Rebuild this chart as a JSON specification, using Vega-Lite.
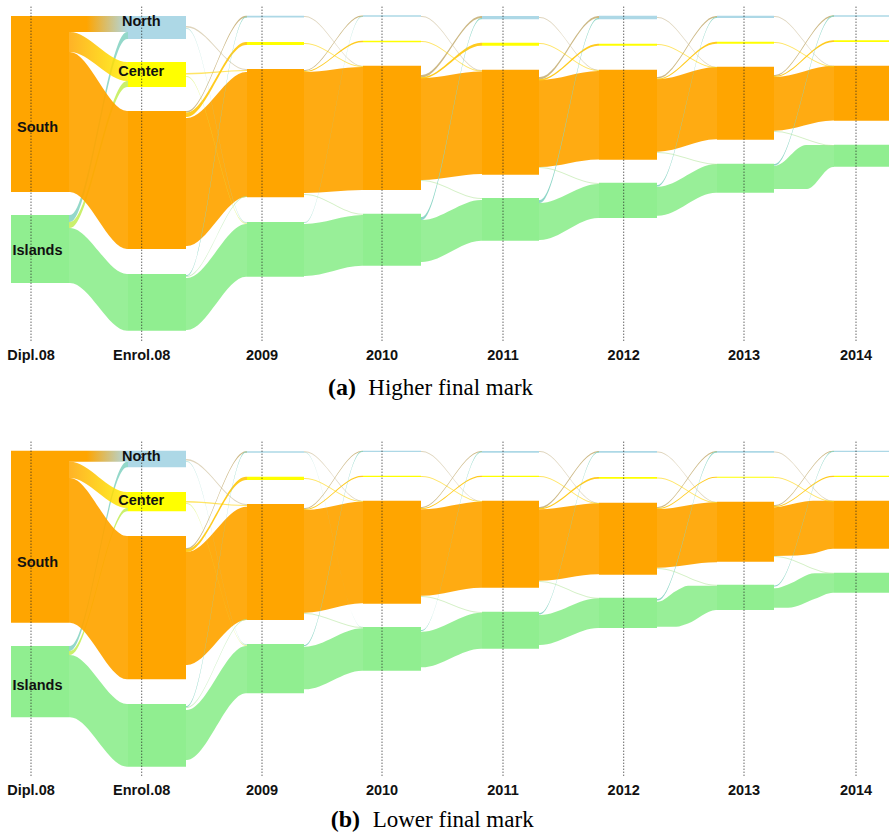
{
"$schema":"https://vega.github.io/schema/vega-lite/v6.json",
"padding":0,
"spacing":35,
"background":"white",
"config":{"view":{"stroke":null}},
"datasets":{
"cols":[{"t":"Dipl.08","x":31},{"t":"Enrol.08","x":141.7},{"t":"2009","x":262},{"t":"2010","x":382},{"t":"2011","x":503},{"t":"2012","x":623.7},{"t":"2013","x":744},{"t":"2014","x":856}],
"labels":[
{"p":"a","t":"South","x":37.5,"y":128},{"p":"a","t":"Islands","x":37.5,"y":251},{"p":"a","t":"North","x":141.3,"y":22},{"p":"a","t":"Center","x":141.3,"y":72},
{"p":"b","t":"South","x":37.5,"y":127.7},{"p":"b","t":"Islands","x":37.5,"y":251},{"p":"b","t":"North","x":141.3,"y":21.7},{"p":"b","t":"Center","x":141.3,"y":65.8}],
"caps":[{"p":"a","part":"tag","t":"(a)","x":356},{"p":"a","part":"txt","t":"Higher final mark","x":368.3},{"p":"b","part":"tag","t":"(b)","x":360},{"p":"b","part":"txt","t":"Lower final mark","x":372.7}],
"nodes":[
{"p":"a","col":"Dipl.08","r":"South","x":11,"x2":69,"lo":16,"hi":192},
{"p":"a","col":"Dipl.08","r":"Islands","x":11,"x2":69,"lo":215,"hi":283},
{"p":"a","col":"Enrol.08","r":"North","x":128,"x2":186,"lo":16,"hi":39},
{"p":"a","col":"Enrol.08","r":"Center","x":128,"x2":186,"lo":62,"hi":87},
{"p":"a","col":"Enrol.08","r":"South","x":128,"x2":186,"lo":111,"hi":249},
{"p":"a","col":"Enrol.08","r":"Islands","x":128,"x2":186,"lo":274,"hi":330.7},
{"p":"a","col":"2009","r":"North","x":247,"x2":304,"lo":15.7,"hi":17.5},
{"p":"a","col":"2009","r":"Center","x":247,"x2":304,"lo":42,"hi":45},
{"p":"a","col":"2009","r":"South","x":247,"x2":304,"lo":69,"hi":197.3},
{"p":"a","col":"2009","r":"Islands","x":247,"x2":304,"lo":222,"hi":276.7},
{"p":"a","col":"2010","r":"North","x":363,"x2":421,"lo":15.3,"hi":16.8},
{"p":"a","col":"2010","r":"Center","x":363,"x2":421,"lo":40.7,"hi":42.3},
{"p":"a","col":"2010","r":"South","x":363,"x2":421,"lo":65.7,"hi":190},
{"p":"a","col":"2010","r":"Islands","x":363,"x2":421,"lo":213.7,"hi":265.7},
{"p":"a","col":"2011","r":"North","x":482,"x2":539,"lo":16,"hi":19.3},
{"p":"a","col":"2011","r":"Center","x":482,"x2":539,"lo":42.7,"hi":45.7},
{"p":"a","col":"2011","r":"South","x":482,"x2":539,"lo":69.7,"hi":174.7},
{"p":"a","col":"2011","r":"Islands","x":482,"x2":539,"lo":198,"hi":240.7},
{"p":"a","col":"2012","r":"North","x":599,"x2":657,"lo":15.7,"hi":19.3},
{"p":"a","col":"2012","r":"Center","x":599,"x2":657,"lo":43.7,"hi":45.7},
{"p":"a","col":"2012","r":"South","x":599,"x2":657,"lo":69.7,"hi":159.7},
{"p":"a","col":"2012","r":"Islands","x":599,"x2":657,"lo":182.7,"hi":218},
{"p":"a","col":"2013","r":"North","x":717,"x2":774,"lo":15.7,"hi":18},
{"p":"a","col":"2013","r":"Center","x":717,"x2":774,"lo":41.7,"hi":43.7},
{"p":"a","col":"2013","r":"South","x":717,"x2":774,"lo":66.7,"hi":139.7},
{"p":"a","col":"2013","r":"Islands","x":717,"x2":774,"lo":163.7,"hi":192.7},
{"p":"a","col":"2014","r":"North","x":834,"x2":889,"lo":15.3,"hi":16.7},
{"p":"a","col":"2014","r":"Center","x":834,"x2":889,"lo":40.3,"hi":42},
{"p":"a","col":"2014","r":"South","x":834,"x2":889,"lo":65.7,"hi":120.7},
{"p":"a","col":"2014","r":"Islands","x":834,"x2":889,"lo":144.7,"hi":166.7},
{"p":"b","col":"Dipl.08","r":"South","x":11,"x2":69,"lo":15.7,"hi":187.7},
{"p":"b","col":"Dipl.08","r":"Islands","x":11,"x2":69,"lo":211,"hi":282.3},
{"p":"b","col":"Enrol.08","r":"North","x":128,"x2":186,"lo":15.7,"hi":32.3},
{"p":"b","col":"Enrol.08","r":"Center","x":128,"x2":186,"lo":57,"hi":76.3},
{"p":"b","col":"Enrol.08","r":"South","x":128,"x2":186,"lo":101,"hi":244.3},
{"p":"b","col":"Enrol.08","r":"Islands","x":128,"x2":186,"lo":269,"hi":331.7},
{"p":"b","col":"2009","r":"North","x":247,"x2":304,"lo":16.3,"hi":17.7},
{"p":"b","col":"2009","r":"Center","x":247,"x2":304,"lo":41.7,"hi":45},
{"p":"b","col":"2009","r":"South","x":247,"x2":304,"lo":69,"hi":185},
{"p":"b","col":"2009","r":"Islands","x":247,"x2":304,"lo":209,"hi":258.3},
{"p":"b","col":"2010","r":"North","x":363,"x2":421,"lo":15.7,"hi":17},
{"p":"b","col":"2010","r":"Center","x":363,"x2":421,"lo":40.7,"hi":42},
{"p":"b","col":"2010","r":"South","x":363,"x2":421,"lo":65.7,"hi":168.7},
{"p":"b","col":"2010","r":"Islands","x":363,"x2":421,"lo":192,"hi":235.7},
{"p":"b","col":"2011","r":"North","x":482,"x2":539,"lo":16,"hi":17.7},
{"p":"b","col":"2011","r":"Center","x":482,"x2":539,"lo":40.7,"hi":42},
{"p":"b","col":"2011","r":"South","x":482,"x2":539,"lo":65.7,"hi":152.7},
{"p":"b","col":"2011","r":"Islands","x":482,"x2":539,"lo":176.7,"hi":213.7},
{"p":"b","col":"2012","r":"North","x":599,"x2":657,"lo":16,"hi":17.7},
{"p":"b","col":"2012","r":"Center","x":599,"x2":657,"lo":42,"hi":43.7},
{"p":"b","col":"2012","r":"South","x":599,"x2":657,"lo":67.7,"hi":139.7},
{"p":"b","col":"2012","r":"Islands","x":599,"x2":657,"lo":162.7,"hi":193},
{"p":"b","col":"2013","r":"North","x":717,"x2":774,"lo":16,"hi":17.7},
{"p":"b","col":"2013","r":"Center","x":717,"x2":774,"lo":41.7,"hi":42.7},
{"p":"b","col":"2013","r":"South","x":717,"x2":774,"lo":66.7,"hi":126.7},
{"p":"b","col":"2013","r":"Islands","x":717,"x2":774,"lo":149.7,"hi":175},
{"p":"b","col":"2014","r":"North","x":834,"x2":889,"lo":15.7,"hi":17},
{"p":"b","col":"2014","r":"Center","x":834,"x2":889,"lo":40.7,"hi":42},
{"p":"b","col":"2014","r":"South","x":834,"x2":889,"lo":65.7,"hi":113.7},
{"p":"b","col":"2014","r":"Islands","x":834,"x2":889,"lo":137.7,"hi":157.7}
],
"flows":[
{"p":"a","f":"a01","k":"gradN","c":"SN","x":[69,70,127,128],"lo":[16,16,16,16],"hi":[32,32,32,32]},
{"p":"a","f":"a02","k":"gradC","c":"SC","x":[69,70,127,128],"lo":[32,32,62,62],"hi":[52,52,81,81]},
{"p":"a","f":"a03","k":"main","c":"South","x":[69,70,127,128],"lo":[52,52,111,111],"hi":[192,192,249,249]},
{"p":"a","f":"a04","k":"under","c":"IN","x":[69,70,127,128],"lo":[215,215,32,32],"hi":[222,222,39,39]},
{"p":"a","f":"a05","k":"under","c":"IC","x":[69,70,127,128],"lo":[222,222,81,81],"hi":[228,228,87,87]},
{"p":"a","f":"a06","k":"main","c":"Islands","x":[69,70,127,128],"lo":[228,228,274,274],"hi":[283,283,330.7,330.7]},
{"p":"a","f":"a07","k":"main","c":"South","x":[186,187,246,247],"lo":[118,118,72,72],"hi":[246,246,197,197]},
{"p":"a","f":"a08","k":"minor","c":"SN","x":[186,187,246,247],"lo":[111,111,15.7,15.7],"hi":[112.5,112.5,17.5,17.5]},
{"p":"a","f":"a09","k":"minor","c":"SC","x":[186,187,246,247],"lo":[112.5,112.5,42,42],"hi":[117,117,45,45]},
{"p":"a","f":"a10","k":"faint","c":"NS","x":[186,187,246,247],"lo":[26,26,69,69],"hi":[27.5,27.5,70,70]},
{"p":"a","f":"a11","k":"faint","c":"NI","x":[186,187,246,247],"lo":[28,28,222,222],"hi":[29,29,223,223]},
{"p":"a","f":"a12","k":"faint","c":"CS","x":[186,187,246,247],"lo":[73,73,70,70],"hi":[74.5,74.5,71,71]},
{"p":"a","f":"a13","k":"faint","c":"CI","x":[186,187,246,247],"lo":[76,76,223,223],"hi":[77,77,224,224]},
{"p":"a","f":"a14","k":"minor","c":"IN","x":[186,187,246,247],"lo":[275,275,16.5,16.5],"hi":[276,276,17.5,17.5]},
{"p":"a","f":"a15","k":"faint","c":"IS","x":[186,187,246,247],"lo":[276,276,196,196],"hi":[277,277,197,197]},
{"p":"a","f":"a16","k":"main","c":"Islands","x":[186,187,246,247],"lo":[278,278,224,224],"hi":[330,330,276.7,276.7]},
{"p":"a","f":"a17","k":"main","c":"South","x":[304,305,362,363],"lo":[72,72,67,67],"hi":[193,193,190,190]},
{"p":"a","f":"a18","k":"minor","c":"SN","x":[304,305,362,363],"lo":[70,70,15.5,15.5],"hi":[71,71,16.8,16.8]},
{"p":"a","f":"a19","k":"minor","c":"SC","x":[304,305,362,363],"lo":[71,71,40.7,40.7],"hi":[72,72,42.3,42.3]},
{"p":"a","f":"a20","k":"faint","c":"NS","x":[304,305,362,363],"lo":[16,16,65.7,65.7],"hi":[17,17,66.5,66.5]},
{"p":"a","f":"a21","k":"faint","c":"CS","x":[304,305,362,363],"lo":[43,43,66,66],"hi":[44,44,67,67]},
{"p":"a","f":"a22","k":"faint","c":"SI","x":[304,305,362,363],"lo":[194,194,213.7,213.7],"hi":[195,195,214.7,214.7]},
{"p":"a","f":"a23","k":"faint","c":"IN","x":[304,305,362,363],"lo":[222,222,16,16],"hi":[223,223,17,17]},
{"p":"a","f":"a24","k":"main","c":"Islands","x":[304,305,362,363],"lo":[224,224,215,215],"hi":[276,276,265.7,265.7]},
{"p":"a","f":"a25","k":"main","c":"South","x":[421,422,481,482],"lo":[78,78,71.5,71.5],"hi":[180,180,174,174]},
{"p":"a","f":"a26","k":"minor","c":"SN","x":[421,422,481,482],"lo":[75,75,16,16],"hi":[77.5,77.5,18,18]},
{"p":"a","f":"a27","k":"minor","c":"SC","x":[421,422,481,482],"lo":[77,77,42.7,42.7],"hi":[78.5,78.5,45.7,45.7]},
{"p":"a","f":"a28","k":"faint","c":"NS","x":[421,422,481,482],"lo":[16,16,70,70],"hi":[17,17,71,71]},
{"p":"a","f":"a29","k":"faint","c":"CS","x":[421,422,481,482],"lo":[41,41,70.5,70.5],"hi":[42,42,71.5,71.5]},
{"p":"a","f":"a30","k":"faint","c":"SI","x":[421,422,481,482],"lo":[180,180,198,198],"hi":[181,181,199,199]},
{"p":"a","f":"a31","k":"minor","c":"IN","x":[421,422,481,482],"lo":[217,217,18,18],"hi":[220,220,19.3,19.3]},
{"p":"a","f":"a32","k":"main","c":"Islands","x":[421,422,481,482],"lo":[220,220,200,200],"hi":[262,262,240.7,240.7]},
{"p":"a","f":"a33","k":"main","c":"South","x":[539,540,598,599],"lo":[80,80,71,71],"hi":[167,167,159.5,159.5]},
{"p":"a","f":"a34","k":"minor","c":"SN","x":[539,540,598,599],"lo":[77,77,16,16],"hi":[79.5,79.5,18,18]},
{"p":"a","f":"a35","k":"minor","c":"SC","x":[539,540,598,599],"lo":[79,79,43.7,43.7],"hi":[80.5,80.5,45.7,45.7]},
{"p":"a","f":"a36","k":"faint","c":"NS","x":[539,540,598,599],"lo":[17,17,69.7,69.7],"hi":[18,18,70.5,70.5]},
{"p":"a","f":"a37","k":"faint","c":"CS","x":[539,540,598,599],"lo":[43,43,70,70],"hi":[44,44,71,71]},
{"p":"a","f":"a38","k":"minor","c":"IN","x":[539,540,598,599],"lo":[200,200,18,18],"hi":[203,203,19.3,19.3]},
{"p":"a","f":"a39","k":"faint","c":"SI","x":[539,540,598,599],"lo":[167,167,183,183],"hi":[168,168,184,184]},
{"p":"a","f":"a40","k":"main","c":"Islands","x":[539,540,598,599],"lo":[203,203,184,184],"hi":[240,240,218,218]},
{"p":"a","f":"a41","k":"main","c":"South","x":[657,658,716,717],"lo":[79,79,67,67],"hi":[151.7,151.7,139.3,139.3]},
{"p":"a","f":"a42","k":"minor","c":"SN","x":[657,658,716,717],"lo":[77,77,16,16],"hi":[78.5,78.5,17.5,17.5]},
{"p":"a","f":"a43","k":"minor","c":"SC","x":[657,658,716,717],"lo":[78.5,78.5,41.7,41.7],"hi":[79.5,79.5,43.7,43.7]},
{"p":"a","f":"a44","k":"faint","c":"NS","x":[657,658,716,717],"lo":[17,17,66.7,66.7],"hi":[18,18,67.5,67.5]},
{"p":"a","f":"a45","k":"faint","c":"CS","x":[657,658,716,717],"lo":[44,44,67,67],"hi":[45,45,68,68]},
{"p":"a","f":"a46","k":"minor","c":"IN","x":[657,658,716,717],"lo":[185,185,17,17],"hi":[186.5,186.5,18,18]},
{"p":"a","f":"a47","k":"faint","c":"SI","x":[657,658,716,717],"lo":[152,152,163.7,163.7],"hi":[153,153,164.7,164.7]},
{"p":"a","f":"a48","k":"main","c":"Islands","x":[657,658,716,717],"lo":[186.7,186.7,164,164],"hi":[215.7,215.7,192.7,192.7]},
{"p":"a","f":"a49","k":"main","c":"South","x":[774,775,833,834],"lo":[77,77,65.7,65.7],"hi":[130.7,130.7,120.5,120.5]},
{"p":"a","f":"a50","k":"minor","c":"SN","x":[774,775,833,834],"lo":[75,75,15.3,15.3],"hi":[76,76,16.7,16.7]},
{"p":"a","f":"a51","k":"minor","c":"SC","x":[774,775,833,834],"lo":[76,76,40.3,40.3],"hi":[77,77,42,42]},
{"p":"a","f":"a52","k":"faint","c":"NS","x":[774,775,833,834],"lo":[16,16,65.7,65.7],"hi":[17,17,66.5,66.5]},
{"p":"a","f":"a53","k":"faint","c":"CS","x":[774,775,833,834],"lo":[42,42,66,66],"hi":[43,43,67,67]},
{"p":"a","f":"a54","k":"minor","c":"IN","x":[774,775,833,834],"lo":[164,164,15.5,15.5],"hi":[165.5,165.5,16.7,16.7]},
{"p":"a","f":"a55","k":"faint","c":"SI","x":[774,775,833,834],"lo":[131,131,145,145],"hi":[132,132,146,146]},
{"p":"a","f":"a56","k":"main","c":"Islands","x":[774,775,806,807,833,834],"lo":[165.7,165.7,145,145,145,145],"hi":[189,189,189,189,167,167]},
{"p":"b","f":"b01","k":"gradN","c":"SN","x":[69,70,127,128],"lo":[15.7,15.7,15.7,15.7],"hi":[26.7,26.7,26.7,26.7]},
{"p":"b","f":"b02","k":"gradC","c":"SC","x":[69,70,127,128],"lo":[26.7,26.7,57,57],"hi":[43,43,73,73]},
{"p":"b","f":"b03","k":"main","c":"South","x":[69,70,127,128],"lo":[43,43,101,101],"hi":[187.7,187.7,244.3,244.3]},
{"p":"b","f":"b04","k":"under","c":"IN","x":[69,70,127,128],"lo":[211,211,26.7,26.7],"hi":[216,216,32.3,32.3]},
{"p":"b","f":"b05","k":"under","c":"IC","x":[69,70,127,128],"lo":[216,216,73,73],"hi":[220,220,76.3,76.3]},
{"p":"b","f":"b06","k":"main","c":"Islands","x":[69,70,127,128],"lo":[220,220,269,269],"hi":[282.3,282.3,331.7,331.7]},
{"p":"b","f":"b07","k":"main","c":"South","x":[186,187,246,247],"lo":[117,117,71.7,71.7],"hi":[230,230,185,185]},
{"p":"b","f":"b08","k":"minor","c":"SN","x":[186,187,246,247],"lo":[113,113,16.3,16.3],"hi":[114.5,114.5,17.7,17.7]},
{"p":"b","f":"b09","k":"minor","c":"SC","x":[186,187,246,247],"lo":[114,114,41.7,41.7],"hi":[117,117,45,45]},
{"p":"b","f":"b10","k":"faint","c":"NS","x":[186,187,246,247],"lo":[24,24,69,69],"hi":[25.5,25.5,70,70]},
{"p":"b","f":"b11","k":"faint","c":"NI","x":[186,187,246,247],"lo":[26,26,209,209],"hi":[27,27,210,210]},
{"p":"b","f":"b12","k":"faint","c":"CS","x":[186,187,246,247],"lo":[66,66,70,70],"hi":[67.5,67.5,71,71]},
{"p":"b","f":"b13","k":"faint","c":"CI","x":[186,187,246,247],"lo":[68,68,210,210],"hi":[69,69,211,211]},
{"p":"b","f":"b14","k":"minor","c":"IN","x":[186,187,246,247],"lo":[271,271,16.5,16.5],"hi":[272,272,17.5,17.5]},
{"p":"b","f":"b15","k":"faint","c":"IS","x":[186,187,246,247],"lo":[272,272,184,184],"hi":[273,273,185,185]},
{"p":"b","f":"b16","k":"main","c":"Islands","x":[186,187,246,247],"lo":[275,275,211,211],"hi":[325,325,258.3,258.3]},
{"p":"b","f":"b17","k":"main","c":"South","x":[304,305,362,363],"lo":[75,75,66.7,66.7],"hi":[177.7,177.7,168.3,168.3]},
{"p":"b","f":"b18","k":"minor","c":"SN","x":[304,305,362,363],"lo":[73,73,15.7,15.7],"hi":[74,74,16.7,16.7]},
{"p":"b","f":"b19","k":"minor","c":"SC","x":[304,305,362,363],"lo":[74,74,40.7,40.7],"hi":[75,75,42,42]},
{"p":"b","f":"b20","k":"faint","c":"NS","x":[304,305,362,363],"lo":[16.3,16.3,65.7,65.7],"hi":[17.3,17.3,66.5,66.5]},
{"p":"b","f":"b21","k":"faint","c":"NI","x":[304,305,362,363],"lo":[17,17,191.7,191.7],"hi":[17.7,17.7,192.5,192.5]},
{"p":"b","f":"b22","k":"faint","c":"CS","x":[304,305,362,363],"lo":[43,43,66,66],"hi":[44,44,67,67]},
{"p":"b","f":"b23","k":"minor","c":"IN","x":[304,305,362,363],"lo":[210,210,16,16],"hi":[211,211,17,17]},
{"p":"b","f":"b24","k":"faint","c":"SI","x":[304,305,362,363],"lo":[178,178,192,192],"hi":[179,179,193,193]},
{"p":"b","f":"b25","k":"main","c":"Islands","x":[304,305,362,363],"lo":[211.7,211.7,193.3,193.3],"hi":[254.3,254.3,235.7,235.7]},
{"p":"b","f":"b26","k":"main","c":"South","x":[421,422,481,482],"lo":[74.3,74.3,66.7,66.7],"hi":[160.7,160.7,152.7,152.7]},
{"p":"b","f":"b27","k":"minor","c":"SN","x":[421,422,481,482],"lo":[72,72,16,16],"hi":[73,73,17,17]},
{"p":"b","f":"b28","k":"minor","c":"SC","x":[421,422,481,482],"lo":[73,73,40.7,40.7],"hi":[74,74,42,42]},
{"p":"b","f":"b29","k":"faint","c":"NS","x":[421,422,481,482],"lo":[16,16,66,66],"hi":[17,17,66.7,66.7]},
{"p":"b","f":"b30","k":"faint","c":"CS","x":[421,422,481,482],"lo":[41,41,66,66],"hi":[42,42,67,67]},
{"p":"b","f":"b31","k":"minor","c":"IN","x":[421,422,481,482],"lo":[195,195,16.5,16.5],"hi":[196,196,17.5,17.5]},
{"p":"b","f":"b32","k":"faint","c":"SI","x":[421,422,481,482],"lo":[161,161,177,177],"hi":[162,162,178,178]},
{"p":"b","f":"b33","k":"main","c":"Islands","x":[421,422,481,482],"lo":[196.7,196.7,177.7,177.7],"hi":[232.3,232.3,213.7,213.7]},
{"p":"b","f":"b34","k":"main","c":"South","x":[539,540,598,599],"lo":[74.3,74.3,68.3,68.3],"hi":[145.7,145.7,139.3,139.3]},
{"p":"b","f":"b35","k":"minor","c":"SN","x":[539,540,598,599],"lo":[72,72,16,16],"hi":[73.5,73.5,17.2,17.2]},
{"p":"b","f":"b36","k":"minor","c":"SC","x":[539,540,598,599],"lo":[73,73,42,42],"hi":[74.3,74.3,43.7,43.7]},
{"p":"b","f":"b37","k":"faint","c":"NS","x":[539,540,598,599],"lo":[16,16,67.7,67.7],"hi":[17,17,68.5,68.5]},
{"p":"b","f":"b38","k":"faint","c":"CS","x":[539,540,598,599],"lo":[41,41,68,68],"hi":[42,42,69,69]},
{"p":"b","f":"b39","k":"minor","c":"IN","x":[539,540,598,599],"lo":[178,178,16.8,16.8],"hi":[179.5,179.5,17.7,17.7]},
{"p":"b","f":"b40","k":"faint","c":"SI","x":[539,540,598,599],"lo":[146,146,162.7,162.7],"hi":[147,147,163.7,163.7]},
{"p":"b","f":"b41","k":"main","c":"Islands","x":[539,540,598,599],"lo":[180,180,163.3,163.3],"hi":[210,210,193,193]},
{"p":"b","f":"b42","k":"main","c":"South","x":[657,658,716,717],"lo":[74,74,67.3,67.3],"hi":[132.7,132.7,127.3,127.3]},
{"p":"b","f":"b43","k":"minor","c":"SN","x":[657,658,716,717],"lo":[72,72,16,16],"hi":[73,73,17.2,17.2]},
{"p":"b","f":"b44","k":"minor","c":"SC","x":[657,658,716,717],"lo":[73,73,41.7,41.7],"hi":[74,74,42.7,42.7]},
{"p":"b","f":"b45","k":"faint","c":"NS","x":[657,658,716,717],"lo":[16.5,16.5,66.7,66.7],"hi":[17.5,17.5,67.5,67.5]},
{"p":"b","f":"b46","k":"faint","c":"CS","x":[657,658,716,717],"lo":[42.5,42.5,67,67],"hi":[43.5,43.5,68,68]},
{"p":"b","f":"b47","k":"minor","c":"IN","x":[657,658,716,717],"lo":[164,164,16.5,16.5],"hi":[165.5,165.5,17.7,17.7]},
{"p":"b","f":"b48","k":"faint","c":"SI","x":[657,658,716,717],"lo":[133,133,149.7,149.7],"hi":[134,134,150.7,150.7]},
{"p":"b","f":"b49","k":"main","c":"Islands","x":[657,658,676,688,716,717],"lo":[166.7,166.7,156,150.7,150.7,150.7],"hi":[191.7,191.7,191.7,188.5,175,175]},
{"p":"b","f":"b50","k":"main","c":"South","x":[774,775,797,813,833,834],"lo":[72.3,72.3,68,65.7,65.7,65.7],"hi":[121,121,120.5,118.5,113.7,113.7]},
{"p":"b","f":"b51","k":"minor","c":"SN","x":[774,775,833,834],"lo":[70,70,15.7,15.7],"hi":[71,71,16.7,16.7]},
{"p":"b","f":"b52","k":"minor","c":"SC","x":[774,775,833,834],"lo":[71,71,40.7,40.7],"hi":[72,72,42,42]},
{"p":"b","f":"b53","k":"faint","c":"NS","x":[774,775,833,834],"lo":[16.5,16.5,65.7,65.7],"hi":[17.5,17.5,66.5,66.5]},
{"p":"b","f":"b54","k":"faint","c":"CS","x":[774,775,833,834],"lo":[42,42,66,66],"hi":[43,43,67,67]},
{"p":"b","f":"b55","k":"minor","c":"IN","x":[774,775,833,834],"lo":[150.5,150.5,16,16],"hi":[151.5,151.5,17,17]},
{"p":"b","f":"b56","k":"faint","c":"SI","x":[774,775,833,834],"lo":[121,121,137.7,137.7],"hi":[122,122,138.7,138.7]},
{"p":"b","f":"b57","k":"main","c":"Islands","x":[774,775,788,815,833,834],"lo":[153.3,153.3,149.5,138.3,138.3,138.3],"hi":[172.7,172.7,172.7,163.7,157.7,157.7]}
]
},
"vconcat":[
{
"width":889,"height":400,
"layer":[
{"data":{"name":"flows"},"transform":[{"filter":"datum.p==='a' && datum.k==='under'"},{"flatten":["x","lo","hi"]}],
 "mark":{"type":"area","interpolate":"monotone","opacity":0.9},
 "encoding":{"x":{"field":"x","type":"quantitative","scale":{"domain":[0,889],"nice":false,"zero":false},"axis":null},
  "y":{"field":"lo","type":"quantitative","scale":{"domain":[0,400],"reverse":true,"nice":false,"zero":false},"axis":null},
  "y2":{"field":"hi"},
  "color":{"field":"c","type":"nominal","legend":null,"scale":{"domain":["North","Center","South","Islands","SN","SC","IN","IC","NS","NI","CS","CI","IS","SI"],"range":["#ADD8E6","#FFFF00","#FFA500","#90EE90","#C9B47E","#FFC814","#88D4C4","#C4EE5C","#C8B890","#9ED8D0","#FFD400","#D6F25A","#A6E49A","#B8E6A0"]}},
  "detail":{"field":"f"}}},
{"data":{"name":"flows"},"transform":[{"filter":"datum.p==='a' && datum.k==='main'"},{"flatten":["x","lo","hi"]}],
 "mark":{"type":"area","interpolate":"monotone","opacity":0.93},
 "encoding":{"x":{"field":"x","type":"quantitative","scale":{"domain":[0,889],"nice":false,"zero":false},"axis":null},
  "y":{"field":"lo","type":"quantitative","scale":{"domain":[0,400],"reverse":true,"nice":false,"zero":false},"axis":null},
  "y2":{"field":"hi"},
  "color":{"field":"c","type":"nominal","legend":null},
  "detail":{"field":"f"}}},
{"data":{"name":"flows"},"transform":[{"filter":"datum.p==='a' && datum.k==='minor'"},{"flatten":["x","lo","hi"]}],
 "mark":{"type":"area","interpolate":"monotone","opacity":0.95},
 "encoding":{"x":{"field":"x","type":"quantitative","scale":{"domain":[0,889],"nice":false,"zero":false},"axis":null},
  "y":{"field":"lo","type":"quantitative","scale":{"domain":[0,400],"reverse":true,"nice":false,"zero":false},"axis":null},
  "y2":{"field":"hi"},
  "color":{"field":"c","type":"nominal","legend":null},
  "detail":{"field":"f"}}},
{"data":{"name":"flows"},"transform":[{"filter":"datum.p==='a' && datum.k==='faint'"},{"flatten":["x","lo","hi"]}],
 "mark":{"type":"area","interpolate":"monotone","opacity":0.6},
 "encoding":{"x":{"field":"x","type":"quantitative","scale":{"domain":[0,889],"nice":false,"zero":false},"axis":null},
  "y":{"field":"lo","type":"quantitative","scale":{"domain":[0,400],"reverse":true,"nice":false,"zero":false},"axis":null},
  "y2":{"field":"hi"},
  "color":{"field":"c","type":"nominal","legend":null},
  "detail":{"field":"f"}}},
{"data":{"name":"flows"},"transform":[{"filter":"datum.p==='a' && datum.k==='gradN'"},{"flatten":["x","lo","hi"]}],
 "mark":{"type":"area","interpolate":"monotone","color":{"gradient":"linear","x1":0,"y1":0,"x2":1,"y2":0,"stops":[{"offset":0,"color":"#FFA500"},{"offset":0.3,"color":"#FFA500"},{"offset":1,"color":"#ADD8E6"}]}},
 "encoding":{"x":{"field":"x","type":"quantitative","scale":{"domain":[0,889],"nice":false,"zero":false},"axis":null},
  "y":{"field":"lo","type":"quantitative","scale":{"domain":[0,400],"reverse":true,"nice":false,"zero":false},"axis":null},
  "y2":{"field":"hi"},"detail":{"field":"f"}}},
{"data":{"name":"flows"},"transform":[{"filter":"datum.p==='a' && datum.k==='gradC'"},{"flatten":["x","lo","hi"]}],
 "mark":{"type":"area","interpolate":"monotone","opacity":0.85,"color":{"gradient":"linear","x1":0,"y1":0,"x2":1,"y2":0,"stops":[{"offset":0,"color":"#FFA500"},{"offset":1,"color":"#FFF000"}]}},
 "encoding":{"x":{"field":"x","type":"quantitative","scale":{"domain":[0,889],"nice":false,"zero":false},"axis":null},
  "y":{"field":"lo","type":"quantitative","scale":{"domain":[0,400],"reverse":true,"nice":false,"zero":false},"axis":null},
  "y2":{"field":"hi"},"detail":{"field":"f"}}},
{"data":{"name":"nodes"},"transform":[{"filter":"datum.p==='a'"}],
 "mark":{"type":"rect"},
 "encoding":{"x":{"field":"x","type":"quantitative","scale":{"domain":[0,889],"nice":false,"zero":false},"axis":null},"x2":{"field":"x2"},
  "y":{"field":"lo","type":"quantitative","scale":{"domain":[0,400],"reverse":true,"nice":false,"zero":false},"axis":null},"y2":{"field":"hi"},
  "color":{"field":"r","type":"nominal","legend":null}}},
{"data":{"name":"cols"},
 "mark":{"type":"rule","color":"#222222","strokeWidth":1,"strokeDash":[1,2]},
 "encoding":{"x":{"field":"x","type":"quantitative","scale":{"domain":[0,889],"nice":false,"zero":false},"axis":null},
  "y":{"datum":6.7,"type":"quantitative","scale":{"domain":[0,400],"reverse":true,"nice":false,"zero":false},"axis":null},"y2":{"datum":341.7}}},
{"data":{"name":"labels"},"transform":[{"filter":"datum.p==='a'"}],
 "mark":{"type":"text","font":"Liberation Sans","fontWeight":"bold","fontSize":14.5,"align":"center","baseline":"middle","color":"#111111"},
 "encoding":{"x":{"field":"x","type":"quantitative","scale":{"domain":[0,889],"nice":false,"zero":false},"axis":null},
  "y":{"field":"y","type":"quantitative","scale":{"domain":[0,400],"reverse":true,"nice":false,"zero":false},"axis":null},"text":{"field":"t"}}},
{"data":{"name":"cols"},
 "mark":{"type":"text","font":"Liberation Sans","fontWeight":"bold","fontSize":14.5,"align":"center","baseline":"middle","color":"#111111"},
 "encoding":{"x":{"field":"x","type":"quantitative","scale":{"domain":[0,889],"nice":false,"zero":false},"axis":null},
  "y":{"datum":356,"type":"quantitative","scale":{"domain":[0,400],"reverse":true,"nice":false,"zero":false},"axis":null},"text":{"field":"t"}}},
{"data":{"name":"caps"},"transform":[{"filter":"datum.p==='a' && datum.part==='tag'"}],
 "mark":{"type":"text","font":"Liberation Serif","fontWeight":"bold","fontSize":24,"align":"right","baseline":"alphabetic","color":"#000000"},
 "encoding":{"x":{"field":"x","type":"quantitative","scale":{"domain":[0,889],"nice":false,"zero":false},"axis":null},
  "y":{"datum":395,"type":"quantitative","scale":{"domain":[0,400],"reverse":true,"nice":false,"zero":false},"axis":null},"text":{"field":"t"}}},
{"data":{"name":"caps"},"transform":[{"filter":"datum.p==='a' && datum.part==='txt'"}],
 "mark":{"type":"text","font":"Liberation Serif","fontSize":23,"align":"left","baseline":"alphabetic","color":"#000000"},
 "encoding":{"x":{"field":"x","type":"quantitative","scale":{"domain":[0,889],"nice":false,"zero":false},"axis":null},
  "y":{"datum":395,"type":"quantitative","scale":{"domain":[0,400],"reverse":true,"nice":false,"zero":false},"axis":null},"text":{"field":"t"}}}
]
},
{
"width":889,"height":400,
"layer":[
{"data":{"name":"flows"},"transform":[{"filter":"datum.p==='b' && datum.k==='under'"},{"flatten":["x","lo","hi"]}],
 "mark":{"type":"area","interpolate":"monotone","opacity":0.9},
 "encoding":{"x":{"field":"x","type":"quantitative","scale":{"domain":[0,889],"nice":false,"zero":false},"axis":null},
  "y":{"field":"lo","type":"quantitative","scale":{"domain":[0,400],"reverse":true,"nice":false,"zero":false},"axis":null},
  "y2":{"field":"hi"},
  "color":{"field":"c","type":"nominal","legend":null,"scale":{"domain":["North","Center","South","Islands","SN","SC","IN","IC","NS","NI","CS","CI","IS","SI"],"range":["#ADD8E6","#FFFF00","#FFA500","#90EE90","#C9B47E","#FFC814","#88D4C4","#C4EE5C","#C8B890","#9ED8D0","#FFD400","#D6F25A","#A6E49A","#B8E6A0"]}},
  "detail":{"field":"f"}}},
{"data":{"name":"flows"},"transform":[{"filter":"datum.p==='b' && datum.k==='main'"},{"flatten":["x","lo","hi"]}],
 "mark":{"type":"area","interpolate":"monotone","opacity":0.93},
 "encoding":{"x":{"field":"x","type":"quantitative","scale":{"domain":[0,889],"nice":false,"zero":false},"axis":null},
  "y":{"field":"lo","type":"quantitative","scale":{"domain":[0,400],"reverse":true,"nice":false,"zero":false},"axis":null},
  "y2":{"field":"hi"},
  "color":{"field":"c","type":"nominal","legend":null},
  "detail":{"field":"f"}}},
{"data":{"name":"flows"},"transform":[{"filter":"datum.p==='b' && datum.k==='minor'"},{"flatten":["x","lo","hi"]}],
 "mark":{"type":"area","interpolate":"monotone","opacity":0.95},
 "encoding":{"x":{"field":"x","type":"quantitative","scale":{"domain":[0,889],"nice":false,"zero":false},"axis":null},
  "y":{"field":"lo","type":"quantitative","scale":{"domain":[0,400],"reverse":true,"nice":false,"zero":false},"axis":null},
  "y2":{"field":"hi"},
  "color":{"field":"c","type":"nominal","legend":null},
  "detail":{"field":"f"}}},
{"data":{"name":"flows"},"transform":[{"filter":"datum.p==='b' && datum.k==='faint'"},{"flatten":["x","lo","hi"]}],
 "mark":{"type":"area","interpolate":"monotone","opacity":0.6},
 "encoding":{"x":{"field":"x","type":"quantitative","scale":{"domain":[0,889],"nice":false,"zero":false},"axis":null},
  "y":{"field":"lo","type":"quantitative","scale":{"domain":[0,400],"reverse":true,"nice":false,"zero":false},"axis":null},
  "y2":{"field":"hi"},
  "color":{"field":"c","type":"nominal","legend":null},
  "detail":{"field":"f"}}},
{"data":{"name":"flows"},"transform":[{"filter":"datum.p==='b' && datum.k==='gradN'"},{"flatten":["x","lo","hi"]}],
 "mark":{"type":"area","interpolate":"monotone","color":{"gradient":"linear","x1":0,"y1":0,"x2":1,"y2":0,"stops":[{"offset":0,"color":"#FFA500"},{"offset":0.3,"color":"#FFA500"},{"offset":1,"color":"#ADD8E6"}]}},
 "encoding":{"x":{"field":"x","type":"quantitative","scale":{"domain":[0,889],"nice":false,"zero":false},"axis":null},
  "y":{"field":"lo","type":"quantitative","scale":{"domain":[0,400],"reverse":true,"nice":false,"zero":false},"axis":null},
  "y2":{"field":"hi"},"detail":{"field":"f"}}},
{"data":{"name":"flows"},"transform":[{"filter":"datum.p==='b' && datum.k==='gradC'"},{"flatten":["x","lo","hi"]}],
 "mark":{"type":"area","interpolate":"monotone","opacity":0.85,"color":{"gradient":"linear","x1":0,"y1":0,"x2":1,"y2":0,"stops":[{"offset":0,"color":"#FFA500"},{"offset":1,"color":"#FFF000"}]}},
 "encoding":{"x":{"field":"x","type":"quantitative","scale":{"domain":[0,889],"nice":false,"zero":false},"axis":null},
  "y":{"field":"lo","type":"quantitative","scale":{"domain":[0,400],"reverse":true,"nice":false,"zero":false},"axis":null},
  "y2":{"field":"hi"},"detail":{"field":"f"}}},
{"data":{"name":"nodes"},"transform":[{"filter":"datum.p==='b'"}],
 "mark":{"type":"rect"},
 "encoding":{"x":{"field":"x","type":"quantitative","scale":{"domain":[0,889],"nice":false,"zero":false},"axis":null},"x2":{"field":"x2"},
  "y":{"field":"lo","type":"quantitative","scale":{"domain":[0,400],"reverse":true,"nice":false,"zero":false},"axis":null},"y2":{"field":"hi"},
  "color":{"field":"r","type":"nominal","legend":null}}},
{"data":{"name":"cols"},
 "mark":{"type":"rule","color":"#222222","strokeWidth":1,"strokeDash":[1,2]},
 "encoding":{"x":{"field":"x","type":"quantitative","scale":{"domain":[0,889],"nice":false,"zero":false},"axis":null},
  "y":{"datum":6.7,"type":"quantitative","scale":{"domain":[0,400],"reverse":true,"nice":false,"zero":false},"axis":null},"y2":{"datum":341.7}}},
{"data":{"name":"labels"},"transform":[{"filter":"datum.p==='b'"}],
 "mark":{"type":"text","font":"Liberation Sans","fontWeight":"bold","fontSize":14.5,"align":"center","baseline":"middle","color":"#111111"},
 "encoding":{"x":{"field":"x","type":"quantitative","scale":{"domain":[0,889],"nice":false,"zero":false},"axis":null},
  "y":{"field":"y","type":"quantitative","scale":{"domain":[0,400],"reverse":true,"nice":false,"zero":false},"axis":null},"text":{"field":"t"}}},
{"data":{"name":"cols"},
 "mark":{"type":"text","font":"Liberation Sans","fontWeight":"bold","fontSize":14.5,"align":"center","baseline":"middle","color":"#111111"},
 "encoding":{"x":{"field":"x","type":"quantitative","scale":{"domain":[0,889],"nice":false,"zero":false},"axis":null},
  "y":{"datum":355.7,"type":"quantitative","scale":{"domain":[0,400],"reverse":true,"nice":false,"zero":false},"axis":null},"text":{"field":"t"}}},
{"data":{"name":"caps"},"transform":[{"filter":"datum.p==='b' && datum.part==='tag'"}],
 "mark":{"type":"text","font":"Liberation Serif","fontWeight":"bold","fontSize":24,"align":"right","baseline":"alphabetic","color":"#000000"},
 "encoding":{"x":{"field":"x","type":"quantitative","scale":{"domain":[0,889],"nice":false,"zero":false},"axis":null},
  "y":{"datum":391.7,"type":"quantitative","scale":{"domain":[0,400],"reverse":true,"nice":false,"zero":false},"axis":null},"text":{"field":"t"}}},
{"data":{"name":"caps"},"transform":[{"filter":"datum.p==='b' && datum.part==='txt'"}],
 "mark":{"type":"text","font":"Liberation Serif","fontSize":23,"align":"left","baseline":"alphabetic","color":"#000000"},
 "encoding":{"x":{"field":"x","type":"quantitative","scale":{"domain":[0,889],"nice":false,"zero":false},"axis":null},
  "y":{"datum":391.7,"type":"quantitative","scale":{"domain":[0,400],"reverse":true,"nice":false,"zero":false},"axis":null},"text":{"field":"t"}}}
]
}
]
}
